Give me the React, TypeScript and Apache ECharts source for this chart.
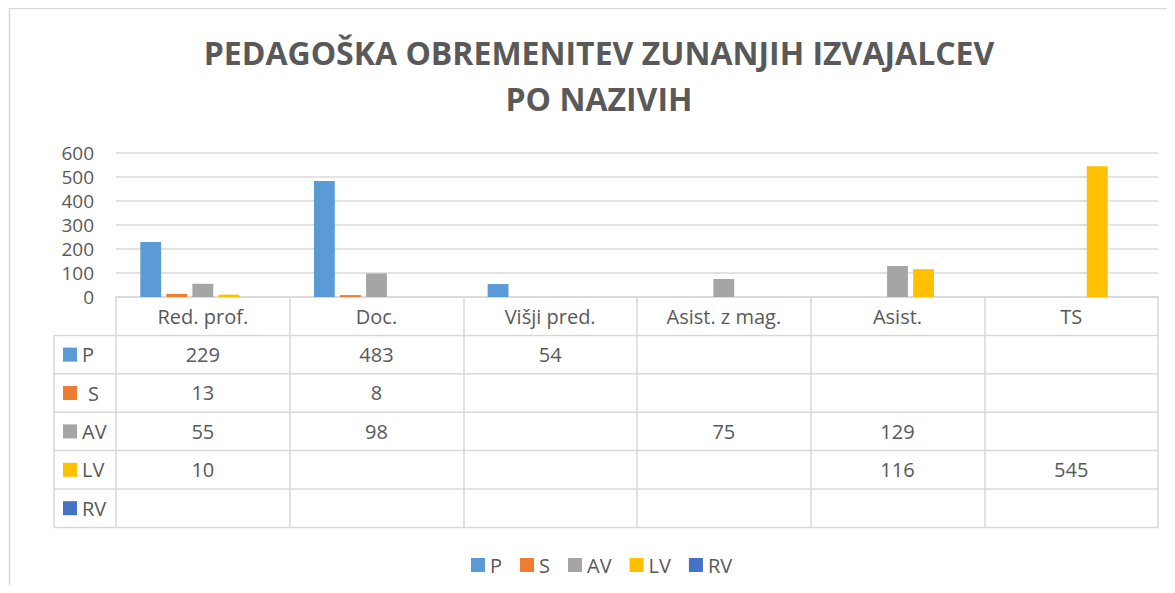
import React, { useEffect, useRef } from "react";
import * as echarts from "echarts";

const titleText = "PEDAGOŠKA OBREMENITEV ZUNANJIH IZVAJALCEV\nPO NAZIVIH";
const categories = ["Red. prof.", "Doc.", "Višji pred.", "Asist. z mag.", "Asist.", "TS"];
const seriesNames = ["P", "S", "AV", "LV", "RV"];
const seriesColors = ["#5B9BD5", "#ED7D31", "#A5A5A5", "#FFC000", "#4472C4"];
const valuesP: (number | null)[] = [229, 483, 54, null, null, null];
const valuesS: (number | null)[] = [13, 8, null, null, null, null];
const valuesAV: (number | null)[] = [55, 98, null, 75, 129, null];
const valuesLV: (number | null)[] = [10, null, null, null, 116, 545];
const valuesRV: (number | null)[] = [null, null, null, null, null, null];
const seriesValues = [valuesP, valuesS, valuesAV, valuesLV, valuesRV];
const yTicks = { min: 0, max: 600, interval: 100 };

const W = 1159;
const H = 577;
const FONT = "'Open Sans', 'DejaVu Sans', sans-serif";
const TXT = "#595959";
const LINE = "#d9d9d9";
const FS = 20;

export default function App() {
  const ref = useRef<HTMLDivElement>(null);
  useEffect(() => {
    if (!ref.current) return;
    const chart = echarts.init(ref.current, null, { renderer: "svg" });

    const gridLeft = 108;
    const gridRight = 9;
    const gridTop = 145;
    const gridBottom = 288;
    const axisY = H - gridBottom; // 289
    const rowH = 38.4;
    const tableLeft = 46;
    const plotRight = W - gridRight;

    const rowAxes = seriesNames.map((name, k) => ({
      type: "category",
      gridIndex: 0,
      position: "bottom",
      offset: rowH * (k + 1),
      data: categories,
      axisLine: { show: false },
      axisTick: { show: false },
      splitLine: { show: false },
      axisLabel: {
        interval: 0,
        margin: 19,
        verticalAlign: "middle",
        fontSize: FS,
        lineHeight: 22,
        color: TXT,
        fontFamily: FONT,
        formatter: (_v: string, i: number) => {
          const v = seriesValues[k][i];
          return v == null ? "" : String(v);
        },
      },
    }));

    const graphics: any[] = [];
    // title
    graphics.push({
      type: "text",
      x: 591,
      y: 21,
      style: {
        text: titleText,
        fontSize: 32,
        fontWeight: "bold",
        fill: TXT,
        fontFamily: FONT,
        lineHeight: 46,
        align: "center",
        verticalAlign: "top",
      },
    });
    // outer frame (top and left)
    graphics.push({ type: "line", shape: { x1: 1, y1: 0.5, x2: W, y2: 0.5 }, style: { stroke: LINE, lineWidth: 1.5 } });
    graphics.push({ type: "line", shape: { x1: 1.5, y1: 0, x2: 1.5, y2: H }, style: { stroke: LINE, lineWidth: 1.5 } });
    // horizontal table lines
    for (let k = 1; k <= seriesNames.length + 1; k++) {
      const y = axisY + rowH * k;
      graphics.push({ type: "line", shape: { x1: tableLeft, y1: y, x2: plotRight, y2: y }, style: { stroke: LINE, lineWidth: 1.5 } });
    }
    // left column vertical
    graphics.push({ type: "line", shape: { x1: tableLeft, y1: axisY + rowH, x2: tableLeft, y2: axisY + rowH * 6 }, style: { stroke: LINE, lineWidth: 1.5 } });
    // series labels
    seriesNames.forEach((name, k) => {
      const cy = axisY + rowH * (k + 1) + rowH / 2;
      graphics.push({ type: "rect", shape: { x: 55, y: cy - 7, width: 14, height: 14 }, style: { fill: seriesColors[k] } });
      graphics.push({
        type: "text",
        x: name === "S" ? 80 : 74,
        y: cy,
        style: { text: name, fontSize: FS, lineHeight: 22, fill: TXT, fontFamily: FONT, verticalAlign: "middle" },
      });
    });

    chart.setOption({
      animation: false,
      textStyle: { fontFamily: FONT },
      legend: {
        data: seriesNames,
        left: 458,
        top: 542,
        itemWidth: 14,
        itemHeight: 14,
        itemGap: 18,
        icon: "rect",
        textStyle: { fontSize: FS, color: TXT, fontFamily: FONT },
      },
      grid: { left: gridLeft, right: gridRight, top: gridTop, bottom: gridBottom },
      xAxis: [
        {
          type: "category",
          data: categories,
          axisLine: { show: true, lineStyle: { color: LINE, width: 1.5 } },
          axisTick: { show: true, length: rowH * 6, lineStyle: { color: LINE, width: 1.5 } },
          axisLabel: { interval: 0, margin: 19, verticalAlign: "middle", fontSize: FS, lineHeight: 22, color: TXT, fontFamily: FONT },
        },
        ...rowAxes,
      ],
      yAxis: {
        type: "value",
        min: yTicks.min,
        max: yTicks.max,
        interval: yTicks.interval,
        axisLine: { show: false },
        axisTick: { show: false },
        splitLine: { lineStyle: { color: LINE, width: 1.5 } },
        axisLabel: { fontSize: 19, color: TXT, margin: 22, fontFamily: FONT },
      },
      series: seriesNames.map((name, k) => ({
        name,
        type: "bar",
        data: seriesValues[k],
        itemStyle: { color: seriesColors[k] },
        barCategoryGap: "28%",
        barGap: "25%",
        xAxisIndex: 0,
      })),
      graphic: graphics,
    });
    return () => chart.dispose();
  }, []);
  return <div ref={ref} style={{ width: W, height: H }} />;
}
